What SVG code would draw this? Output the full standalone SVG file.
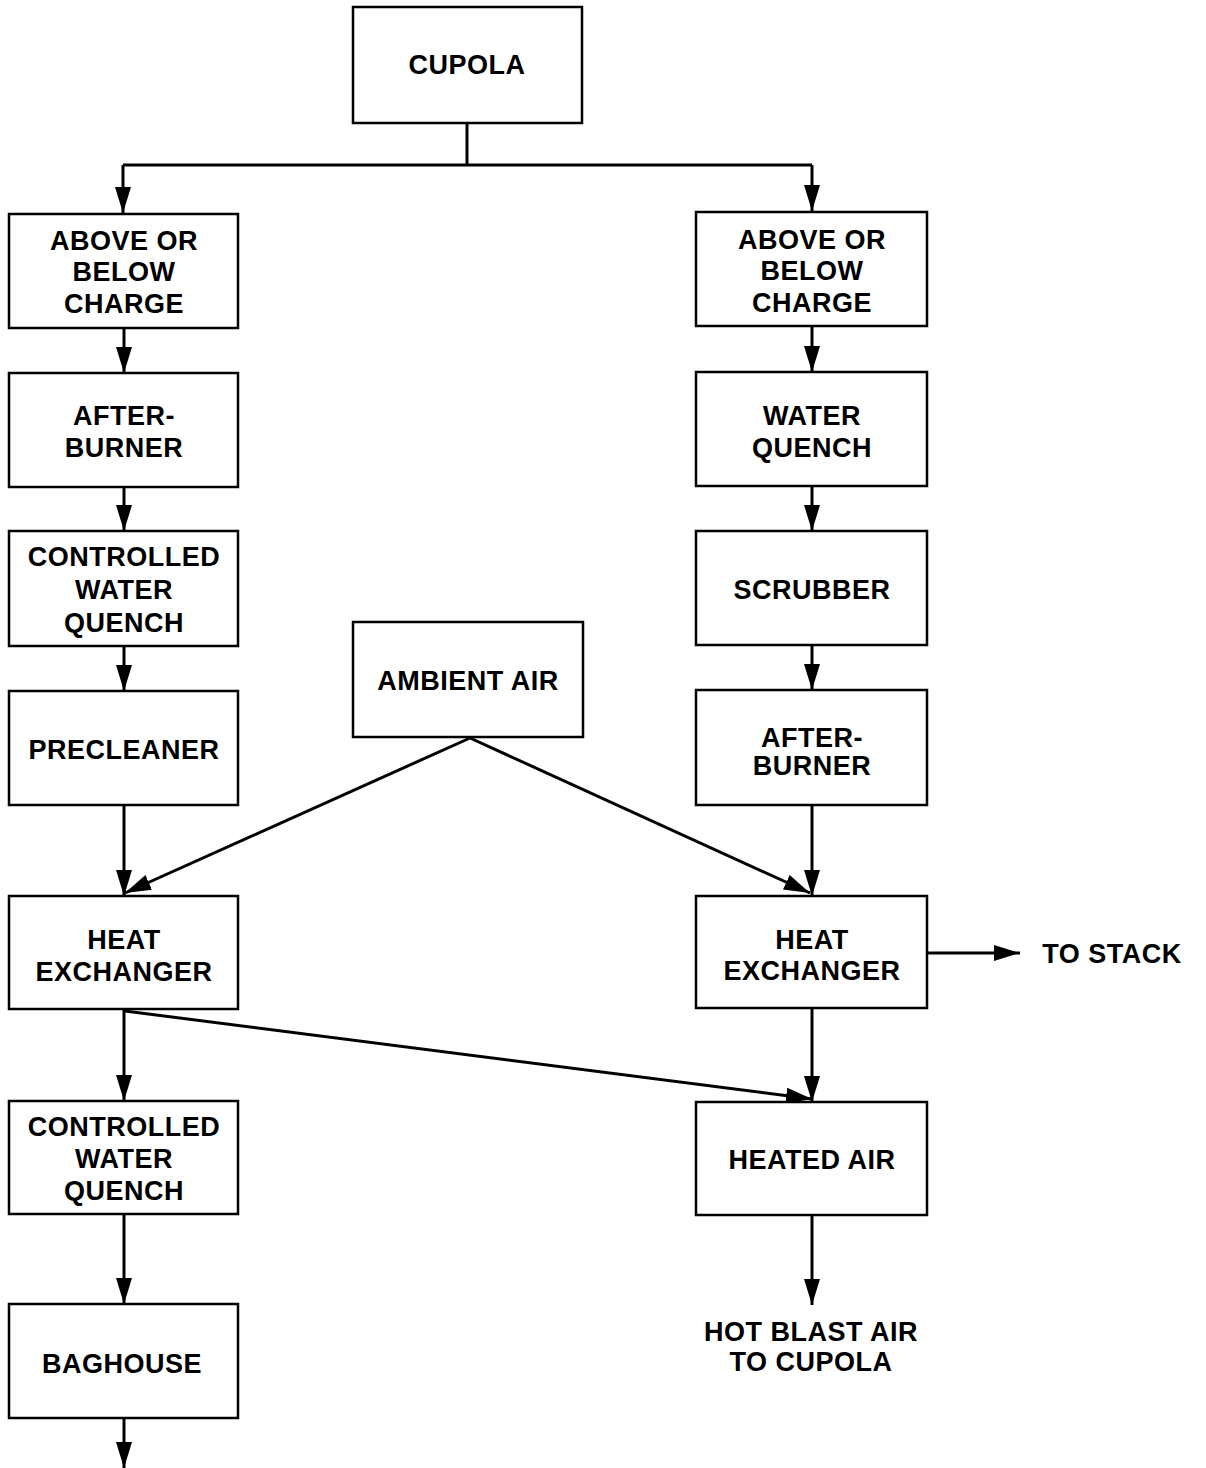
<svg xmlns="http://www.w3.org/2000/svg" width="1206" height="1468" viewBox="0 0 1206 1468">
<style>
rect{fill:#fff;stroke:#000;stroke-width:2.5}
text{font-family:"Liberation Sans",Arial,sans-serif;font-size:27px;font-weight:bold;text-anchor:middle;fill:#000;letter-spacing:0.5px}
.c path{fill:none;stroke:#000;stroke-width:3;marker-end:url(#ah)}
.c path.n{marker-end:none}
</style>
<defs>
<marker id="ah" markerUnits="userSpaceOnUse" markerWidth="28" markerHeight="18" refX="26" refY="9" orient="auto">
<path d="M0,1 L26,9 L0,17 z" fill="#000"/>
</marker>
</defs>
<rect width="1206" height="1468" fill="#fff" style="stroke:none"/>
<g class="c" id="connectors">
<path class="n" d="M467,123 V165"/>
<path class="n" d="M123,165 H812"/>
<path d="M123,165 V213"/>
<path d="M812,165 V211"/>
<path d="M124,328 V373"/>
<path d="M124,487 V531"/>
<path d="M124,646 V691"/>
<path d="M124,805 V896"/>
<path d="M124,1009 V1101"/>
<path d="M124,1214 V1304"/>
<path d="M124,1418 V1468"/>
<path d="M812,326 V372"/>
<path d="M812,486 V531"/>
<path d="M812,645 V690"/>
<path d="M812,805 V896"/>
<path d="M812,1008 V1102"/>
<path d="M812,1215 V1305"/>
<path d="M470,738 L125,893"/>
<path d="M470,738 L810,893"/>
<path d="M125,1011 L812,1099"/>
<path d="M927,953 H1020"/>
</g>
<g id="cupola"><rect x="353" y="7" width="229" height="116"/><text x="467" y="74">CUPOLA</text></g>
<g id="l1"><rect x="9" y="214" width="229" height="114"/><text x="124" y="250">ABOVE OR</text><text x="124" y="281">BELOW</text><text x="124" y="313">CHARGE</text></g>
<g id="l2"><rect x="9" y="373" width="229" height="114"/><text x="124" y="425">AFTER-</text><text x="124" y="457">BURNER</text></g>
<g id="l3"><rect x="9" y="531" width="229" height="115"/><text x="124" y="566">CONTROLLED</text><text x="124" y="599">WATER</text><text x="124" y="632">QUENCH</text></g>
<g id="l4"><rect x="9" y="691" width="229" height="114"/><text x="124" y="759">PRECLEANER</text></g>
<g id="l5"><rect x="9" y="896" width="229" height="113"/><text x="124" y="949">HEAT</text><text x="124" y="981">EXCHANGER</text></g>
<g id="l6"><rect x="9" y="1101" width="229" height="113"/><text x="124" y="1136">CONTROLLED</text><text x="124" y="1168">WATER</text><text x="124" y="1200">QUENCH</text></g>
<g id="l7"><rect x="9" y="1304" width="229" height="114"/><text x="122" y="1373">BAGHOUSE</text></g>
<g id="ambient"><rect x="353" y="622" width="230" height="115"/><text x="468" y="690">AMBIENT AIR</text></g>
<g id="r1"><rect x="696" y="212" width="231" height="114"/><text x="812" y="249">ABOVE OR</text><text x="812" y="280">BELOW</text><text x="812" y="312">CHARGE</text></g>
<g id="r2"><rect x="696" y="372" width="231" height="114"/><text x="812" y="425">WATER</text><text x="812" y="457">QUENCH</text></g>
<g id="r3"><rect x="696" y="531" width="231" height="114"/><text x="812" y="599">SCRUBBER</text></g>
<g id="r4"><rect x="696" y="690" width="231" height="115"/><text x="812" y="747">AFTER-</text><text x="812" y="775">BURNER</text></g>
<g id="r5"><rect x="696" y="896" width="231" height="112"/><text x="812" y="949">HEAT</text><text x="812" y="980">EXCHANGER</text></g>
<g id="r6"><rect x="696" y="1102" width="231" height="113"/><text x="812" y="1169">HEATED AIR</text></g>
<g id="hotblast"><text x="811" y="1341">HOT BLAST AIR</text><text x="811" y="1371">TO CUPOLA</text></g>
<g id="stack"><text x="1112" y="963">TO STACK</text></g>
</svg>
